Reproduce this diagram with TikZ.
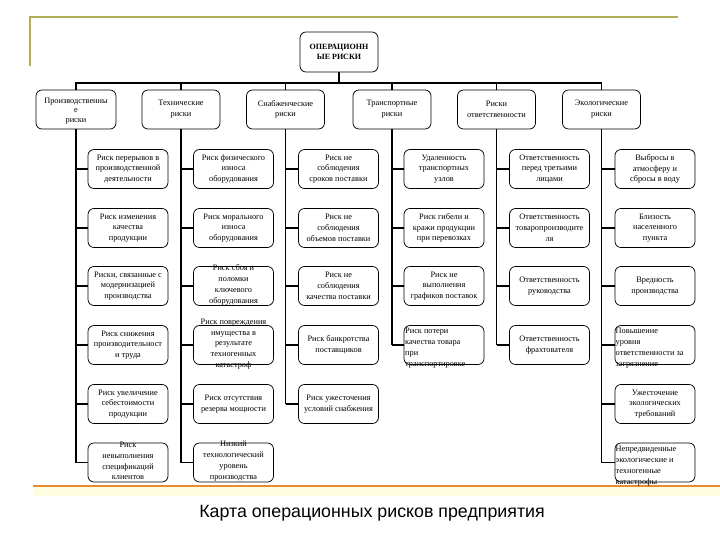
\documentclass[tikz,border=0pt]{standalone}
\usepackage{fontspec}
\setmainfont{Liberation Serif}
\newfontfamily\capfont{Liberation Sans}
\begin{document}
\begin{tikzpicture}[x=1pt,y=-1pt,
  rbox/.style={draw, line width=0.75pt, rounded corners=6pt, minimum width=80pt, minimum height=39pt, inner sep=0pt},
  rtext/.style={align=center, font=\fontsize{8.3}{10.8}\selectfont, inner sep=0pt},
  ltext/.style={align=left, font=\fontsize{8.3}{10.8}\selectfont, inner sep=0pt, anchor=west},
  bus/.style={line width=1.8pt},
  frameline/.style={line width=1.6pt, draw=yellow!60!black!85},
]
\useasboundingbox (0,0) rectangle (720,540);
% frame decorations
\fill[yellow!12] (33,487) rectangle (720,496);
\draw[line width=2pt, draw=orange!60!brown!90] (33,485.5) -- (720,485.5);
\draw[frameline] (30,66) -- (30,17) -- (678,17);

% top node
\node[rbox, minimum width=78pt, minimum height=40pt] (top) at (339,52) {};
\node[rtext, font=\bfseries\fontsize{8}{10.6}\selectfont] (toptext) at (top.center) {ОПЕРАЦИОНН\\ЫЕ РИСКИ};

% level 1
\node[rbox] (L1) at (76,109.5) {};
\node[rtext, font=\fontsize{8.3}{9.8}\selectfont] (L1t) at (76,111) {Производственны\\е\\риски};
\node[rbox, minimum width=78pt] (L2) at (181,109.5) {};
\node[rtext] (L2t) at (L2.center) {Технические\\риски};
\node[rbox, minimum width=78pt] (L3) at (285.5,109.5) {};
\node[rtext] (L3t) at (L3.center) {Снабженческие\\риски};
\node[rbox, minimum width=78pt] (L4) at (392,109.5) {};
\node[rtext] (L4t) at (L4.center) {Транспортные\\риски};
\node[rbox, minimum width=78pt] (L5) at (496.5,109.5) {};
\node[rtext] (L5t) at (L5.center) {Риски\\ответственности};
\node[rbox, minimum width=78pt] (L6) at (601.5,109.5) {};
\node[rtext] (L6t) at (L6.center) {Экологические\\риски};

% bus
\coordinate (busy) at (0,83);
\draw[bus] (top.south) -- (top.south |- busy);
\draw[bus] (L1.north) -- (L1.north |- busy) -- (L6.north |- busy) -- (L6.north);
\foreach \n in {L2,L3,L4,L5} \draw[bus] (\n.north |- busy) -- (\n.north);

% column 1
\node[rbox] (a1) at (128,169) {};
\node[rtext] (a1t) at (a1.center) {Риск перерывов в\\производственной\\деятельности};
\node[rbox] (a2) at (128,228) {};
\node[rtext] (a2t) at (a2.center) {Риск изменения\\качества\\продукции};
\node[rbox] (a3) at (128,286) {};
\node[rtext] (a3t) at (a3.center) {Риски, связанные с\\модернизацией\\производства};
\node[rbox] (a4) at (128,345) {};
\node[rtext] (a4t) at (a4.center) {Риск снижения\\производительност\\и труда};
\node[rbox] (a5) at (128,404) {};
\node[rtext] (a5t) at (a5.center) {Риск увеличение\\себестоимости\\продукции};
\node[rbox] (a6) at (128,462.5) {};
\node[rtext] (a6t) at (128,461) {Риск\\невыполнения\\спецификаций\\клиентов};

% column 2
\node[rbox] (b1) at (233.5,169) {};
\node[rtext] (b1t) at (b1.center) {Риск физического\\износа\\оборудования};
\node[rbox] (b2) at (233.5,228) {};
\node[rtext] (b2t) at (b2.center) {Риск морального\\износа\\оборудования};
\node[rbox] (b3) at (233.5,286) {};
\node[rtext] (b3t) at (233.5,285) {Риск сбоя и\\поломки\\ключевого\\оборудования};
\node[rbox] (b4) at (233.5,345) {};
\node[rtext] (b4t) at (233.5,344) {Риск повреждения\\имущества в\\результате\\техногенных\\катастроф};
\node[rbox] (b5) at (233.5,404) {};
\node[rtext] (b5t) at (b5.center) {Риск отсутствия\\резерва мощности};
\node[rbox] (b6) at (233.5,462.5) {};
\node[rtext] (b6t) at (233.5,461) {Низкий\\технологический\\уровень\\производства};

% column 3
\node[rbox] (c1) at (338.5,169) {};
\node[rtext] (c1t) at (c1.center) {Риск не\\соблюдения\\сроков поставки};
\node[rbox] (c2) at (338.5,228) {};
\node[rtext] (c2t) at (c2.center) {Риск не\\соблюдения\\объемов поставки};
\node[rbox] (c3) at (338.5,286) {};
\node[rtext] (c3t) at (c3.center) {Риск не\\соблюдения\\качества поставки};
\node[rbox] (c4) at (338.5,345) {};
\node[rtext] (c4t) at (c4.center) {Риск банкротства\\поставщиков};
\node[rbox] (c5) at (338.5,404) {};
\node[rtext] (c5t) at (c5.center) {Риск ужесточения\\условий снабжения};

% column 4
\node[rbox] (d1) at (444,169) {};
\node[rtext] (d1t) at (d1.center) {Удаленность\\транспортных\\узлов};
\node[rbox] (d2) at (444,228) {};
\node[rtext] (d2t) at (d2.center) {Риск гибели и\\кражи продукции\\при перевозках};
\node[rbox] (d3) at (444,286) {};
\node[rtext] (d3t) at (d3.center) {Риск не\\выполнения\\графиков поставок};
\node[rbox] (d4) at (444,345) {};
\node[ltext] (d4t) at (405,348) {Риск потери\\качества товара\\при\\транспортировке};

% column 5
\node[rbox] (e1) at (549.5,169) {};
\node[rtext] (e1t) at (e1.center) {Ответственность\\перед третьими\\лицами};
\node[rbox] (e2) at (549.5,228) {};
\node[rtext] (e2t) at (e2.center) {Ответственность\\товаропроизводите\\ля};
\node[rbox] (e3) at (549.5,286) {};
\node[rtext] (e3t) at (e3.center) {Ответственность\\руководства};
\node[rbox] (e4) at (549.5,345) {};
\node[rtext] (e4t) at (e4.center) {Ответственность\\фрахтователя};

% column 6
\node[rbox] (f1) at (655,169) {};
\node[rtext] (f1t) at (f1.center) {Выбросы в\\атмосферу и\\сбросы в воду};
\node[rbox] (f2) at (655,228) {};
\node[rtext] (f2t) at (f2.center) {Близость\\населенного\\пункта};
\node[rbox] (f3) at (655,286) {};
\node[rtext] (f3t) at (f3.center) {Вредность\\производства};
\node[rbox] (f4) at (655,345) {};
\node[ltext] (f4t) at (615.5,348) {Повышение\\уровня\\ответственности за\\загрязнение};
\node[rbox] (f5) at (655,404) {};
\node[rtext] (f5t) at (f5.center) {Ужесточение\\экологических\\требований};
\node[rbox] (f6) at (655,462.5) {};
\node[ltext] (f6t) at (615.5,466) {Непредвиденные\\экологические и\\техногенные\\катастрофы};

% trunks
\draw[bus] (L1.south) -- (L1.south |- a6.west);
\foreach \c in {a1,a2,a3,a4,a5,a6} \draw[bus] (L1.south |- \c.west) -- (\c.west);
\draw[bus] (L2.south) -- (L2.south |- b6.west);
\foreach \c in {b1,b2,b3,b4,b5,b6} \draw[bus] (L2.south |- \c.west) -- (\c.west);
\draw[bus] (L3.south) -- (L3.south |- c5.west);
\foreach \c in {c1,c2,c3,c4,c5} \draw[bus] (L3.south |- \c.west) -- (\c.west);
\draw[bus] (L4.south) -- (L4.south |- d4.west);
\foreach \c in {d1,d2,d3,d4} \draw[bus] (L4.south |- \c.west) -- (\c.west);
\draw[bus] (L5.south) -- (L5.south |- e4.west);
\foreach \c in {e1,e2,e3,e4} \draw[bus] (L5.south |- \c.west) -- (\c.west);
\draw[bus] (L6.south) -- (L6.south |- f6.west);
\foreach \c in {f1,f2,f3,f4,f5,f6} \draw[bus] (L6.south |- \c.west) -- (\c.west);

% caption
\node[font=\capfont\fontsize{17.8}{20}\selectfont, inner sep=0pt] (cap) at (372,513) {Карта операционных рисков предприятия};
\end{tikzpicture}
\end{document}
